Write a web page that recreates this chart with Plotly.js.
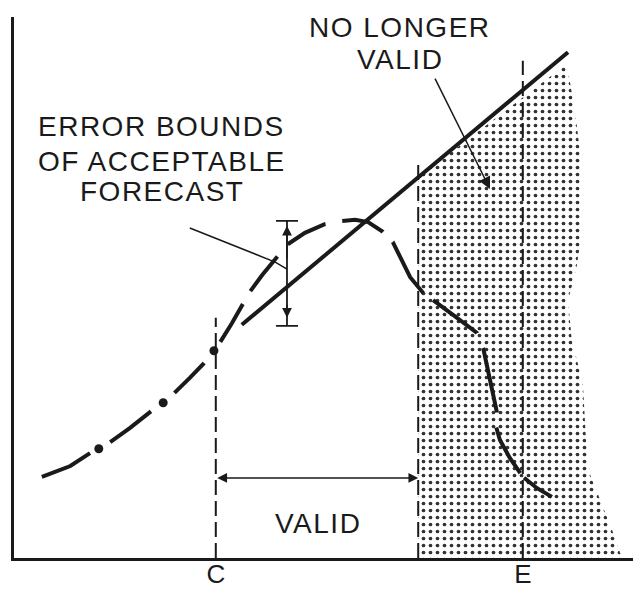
<!DOCTYPE html>
<html>
<head>
<meta charset="utf-8">
<script src="https://cdn.plot.ly/plotly-3.0.1.min.js"></script>
<style>
  html, body { margin: 0; padding: 0; background: #fff; }
  #chart { width: 633px; height: 589px; }
  .annotation-text { letter-spacing: 1.5px; }
</style>
</head>
<body>
<div id="chart"></div>
<script>
// ---- data (arbitrary 0-100 units) ----
const forecastX = [4.5, 9.1, 12.3, 13.7, 15.5, 18.7, 22.1, 24.1, 25.9, 28.4, 30.7, 32.3,
  33.3, 35.2, 37.0, 38.1, 40.1, 42.5, 44.1, 47.0, 50.2, 53.0, 55.1, 57.2, 59.6, 61.2, 62.7,
  64.0, 66.1, 67.7, 71.2, 74.8, 75.8, 76.9, 78.0, 77.9, 78.5, 80.1, 81.7, 82.2, 84.5, 86.9];
const forecastY = [15.0, 17.0, 19.4, 20.2, 21.4, 24.0, 27.0, 28.7, 30.5, 33.3, 36.0, 38.3,
  39.9, 43.4, 46.8, 49.2, 52.3, 55.6, 57.9, 60.1, 61.7, 62.3, 62.5, 62.1, 60.3, 58.4, 55.1,
  51.9, 49.0, 47.7, 44.7, 41.6, 38.8, 32.9, 27.0, 24.2, 21.8, 18.5, 15.9, 15.0, 12.9, 11.3];
const splitIndex = 11;               // point where the curve meets line C
const dotX = [13.7, 24.1, 32.3];
const dotY = [20.2, 28.7, 38.3];

const trendX = [36.8, 89.5];
const trendY = [43.1, 93.5];

const shadeX = [65.3, 65.3, 89.3, 90.6, 91.6, 91.8, 90.8, 89.5, 90.1, 91.9, 92.4, 93.1, 94.7, 96.8, 98.2];
const shadeY = [0, 70.4, 91.3, 82.8, 73.6, 60.6, 53.2, 47.7, 40.3, 32.3, 21.8, 15.3, 10.7, 4.6, 0];

const markerX = [32.6, 65.3, 82.2];
const markerTop = [44.4, 73.0, 91.9];

const tickVals = [32.6, 82.2];
const tickText = ['C', 'E'];

const boundX = 44.1, boundY = 50.1, boundPlus = 12.2, boundMinus = 7.2;

const leaderX = [28.4, 42.2, 44.1];
const leaderY = [61.0, 54.7, 53.4];

const validRange = [32.6, 65.3];
const validArrowY = 14.8;

const labels = [
  {text: 'NO LONGER', x: 62.4, y: 98.0},
  {text: 'VALID', x: 62.4, y: 92.2},
  {text: 'ERROR BOUNDS', x: 23.9, y: 79.7},
  {text: 'OF ACCEPTABLE', x: 23.9, y: 73.3},
  {text: 'FORECAST', x: 23.9, y: 67.7},
  {text: 'VALID', x: 49.1, y: 6.3}
];
const noLongerArrow = {tailX: 67.9, tailY: 88.9, tipX: 76.9, tipY: 68.2};

// ---- traces ----
const ink = '#1a1a1a';
const traces = [];

traces.push({
  x: shadeX, y: shadeY, mode: 'lines', fill: 'toself', line: {width: 0, color: 'rgba(0,0,0,0)'},
  fillcolor: 'white',
  fillpattern: {shape: '.', size: 7, solidity: 0.22, fgcolor: '#333', bgcolor: 'white'},
  hoverinfo: 'skip'
});

markerX.forEach((mx, i) => {
  traces.push({x: [mx, mx], y: [0, markerTop[i]], mode: 'lines',
    line: {color: ink, width: 2, dash: '15px,6px'}, hoverinfo: 'skip'});
});

traces.push({x: trendX, y: trendY, mode: 'lines', line: {color: ink, width: 4}});

traces.push({
  x: forecastX.slice(0, splitIndex + 1), y: forecastY.slice(0, splitIndex + 1), mode: 'lines',
  line: {color: ink, width: 4, dash: '54px,23px,51px,30px,42px,200px'}
});
traces.push({
  x: forecastX.slice(splitIndex), y: forecastY.slice(splitIndex), mode: 'lines',
  line: {color: ink, width: 4,
    dash: '0px,11px,44px,15px,44px,16px,43px,17px,44px,14px,60px,12px,55px,16px,66px,15px,52px,6px,35px,100px'}
});
traces.push({x: dotX, y: dotY, mode: 'markers', marker: {size: 9, color: ink, symbol: 'circle'}});

traces.push({x: leaderX, y: leaderY, mode: 'lines', line: {color: ink, width: 1.5}});

traces.push({
  x: [boundX], y: [boundY], mode: 'markers', marker: {size: 1, color: 'rgba(0,0,0,0)'},
  error_y: {type: 'data', symmetric: false, array: [boundPlus], arrayminus: [boundMinus],
    width: 11, thickness: 1.8, color: ink}
});

const annotations = labels.map(l => ({
  x: l.x, y: l.y, xref: 'x', yref: 'y', text: l.text, showarrow: false,
  xanchor: 'center', yanchor: 'middle',
  font: {family: 'Liberation Sans, Arial, sans-serif', size: 28, color: ink}
}));

annotations.push({
  x: noLongerArrow.tipX, y: noLongerArrow.tipY, ax: noLongerArrow.tailX, ay: noLongerArrow.tailY,
  xref: 'x', yref: 'y', axref: 'x', ayref: 'y', text: '', showarrow: true,
  arrowhead: 2, arrowsize: 1.6, arrowwidth: 1.5, arrowcolor: ink
});
annotations.push({
  x: boundX, y: boundY + boundPlus - 0.9, ax: boundX, ay: boundY + 5,
  xref: 'x', yref: 'y', axref: 'x', ayref: 'y', text: '', showarrow: true,
  arrowhead: 2, arrowsize: 1.3, arrowwidth: 1.5, arrowcolor: ink
});
annotations.push({
  x: boundX, y: boundY - boundMinus + 1.5, ax: boundX, ay: boundY - 3,
  xref: 'x', yref: 'y', axref: 'x', ayref: 'y', text: '', showarrow: true,
  arrowhead: 2, arrowsize: 1.3, arrowwidth: 1.5, arrowcolor: ink
});
annotations.push({
  x: validRange[1], y: validArrowY, ax: validRange[0], ay: validArrowY,
  xref: 'x', yref: 'y', axref: 'x', ayref: 'y', text: '', showarrow: true,
  arrowhead: 2, startarrowhead: 2, arrowside: 'end+start', arrowsize: 1.3, startarrowsize: 1.3,
  arrowwidth: 1.5, arrowcolor: ink
});

const layout = {
  width: 633, height: 589,
  margin: {l: 14, r: 0, t: 17, b: 31},
  paper_bgcolor: 'white', plot_bgcolor: 'white',
  showlegend: false,
  font: {family: 'Liberation Sans, Arial, sans-serif', color: ink},
  xaxis: {range: [0, 100], showgrid: false, zeroline: false, showline: true, linewidth: 3,
    linecolor: ink, tickvals: tickVals, ticktext: tickText, ticks: '',
    tickfont: {size: 26, color: ink}, ticklabelstandoff: -9, fixedrange: true},
  yaxis: {range: [0, 100], showgrid: false, zeroline: false, showline: true, linewidth: 3,
    linecolor: ink, showticklabels: false, ticks: '', fixedrange: true},
  annotations: annotations
};

Plotly.newPlot('chart', traces, layout, {staticPlot: true, displayModeBar: false});
</script>
</body>
</html>
